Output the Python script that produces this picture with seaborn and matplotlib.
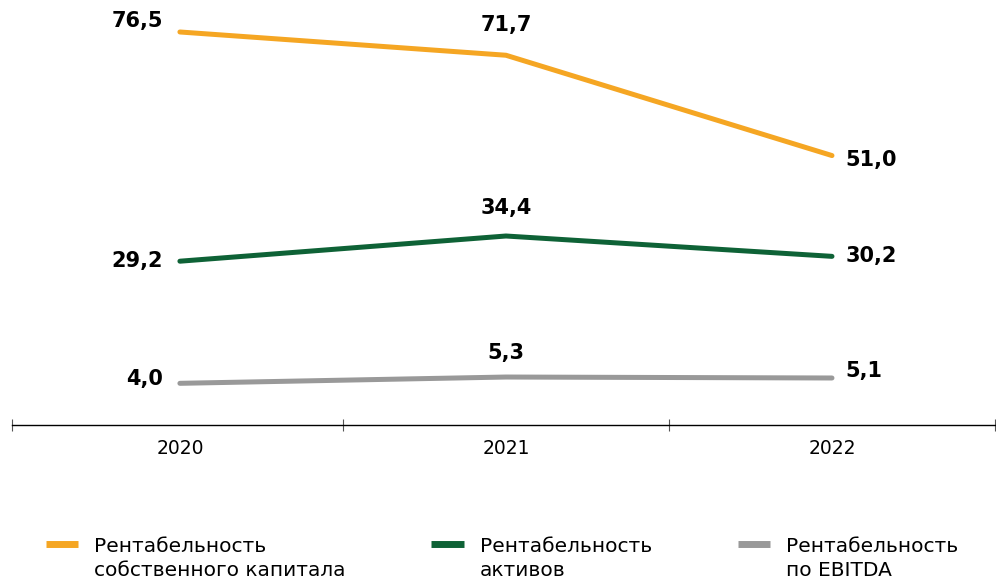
import numpy as np
import pandas as pd
import matplotlib.pyplot as plt
import seaborn as sns
from matplotlib.legend_handler import HandlerLine2D

# Data
years = ["2020", "2021", "2022"]
roe = [76.5, 71.7, 51.0]
roa = [29.2, 34.4, 30.2]
ebitda = [4.0, 5.3, 5.1]
series_names = ["Рентабельность\nсобственного капитала",
                "Рентабельность\nактивов",
                "Рентабельность\nпо EBITDA"]
colors = ["#F5A623", "#0E6236", "#999999"]

df = pd.DataFrame({
    "x": list(range(len(years))) * 3,
    "value": roe + roa + ebitda,
    "series": [series_names[0]] * 3 + [series_names[1]] * 3 + [series_names[2]] * 3,
})

sns.set_style("white")
plt.rcParams["font.family"] = ["DejaVu Sans"]

fig = plt.figure(figsize=(9.96, 5.81), dpi=100)
ax = fig.add_axes([12 / 996, 1 - 425 / 581, (995 - 12) / 996, 425 / 581])

sns.lineplot(data=df, x="x", y="value", hue="series", palette=colors,
             linewidth=3.6, ax=ax, legend=True)

ax.set_xlim(-0.515, 2.5)
ax.set_ylim(-4.6, 83.1)

# value labels: left of first point, above middle, right of last point
label_pos = {
    0: [(-12, 8), (-12, 0), (-12, 3)],
    1: [(0, 22), (0, 20), (0, 17)],
    2: [(10, -3), (10, 0), (10, 5)],
}
for s_idx, vals in enumerate([roe, roa, ebitda]):
    for i, v in enumerate(vals):
        dx, dy = label_pos[i][s_idx]
        ha = "right" if i == 0 else ("center" if i == 1 else "left")
        ax.annotate(f"{v:.1f}".replace(".", ","), (i, v), xytext=(dx, dy),
                    textcoords="offset points", ha=ha, va="center",
                    fontsize=15, fontweight="bold", color="black")

# axes styling
for side in ["left", "right", "top"]:
    ax.spines[side].set_visible(False)
ax.spines["bottom"].set_color("black")
ax.spines["bottom"].set_linewidth(1.0)
ax.set_yticks([])
ax.set_xticks(range(len(years)))
ax.set_xticklabels(years, fontsize=13.5, color="black")
ax.tick_params(axis="x", which="major", length=0, pad=10)
ax.set_xticks([-0.515, 0.5, 1.5, 2.5], minor=True)
ax.tick_params(axis="x", which="minor", bottom=True, length=8,
               direction="inout", color="#555555", width=0.8)
ax.set_xlabel("")
ax.set_ylabel("")


# legend handle sits next to the first line of the two-line label
class UpperLineHandler(HandlerLine2D):
    def create_artists(self, legend, orig_handle, xdescent, ydescent,
                       width, height, fontsize, trans):
        artists = super().create_artists(legend, orig_handle, xdescent,
                                         ydescent, width, height, fontsize, trans)
        for a in artists:
            a.set_ydata(np.asarray(a.get_ydata()) + fontsize * 0.75)
        return artists


handles, labels = ax.get_legend_handles_labels()
ax.legend_.remove()
leg = fig.legend(handles, labels, loc="upper left", ncol=3, frameon=False,
                 bbox_to_anchor=(36 / 996, 1 - 527 / 581), fontsize=14.5,
                 borderpad=0, handlelength=1.6, handletextpad=0.8,
                 columnspacing=4.25,
                 handler_map={h: UpperLineHandler() for h in handles})
for t in leg.get_texts():
    t.set_color("black")
    t.set_linespacing(1.35)
for h in leg.get_lines():
    h.set_linewidth(5)
    h.set_solid_capstyle("butt")

fig.savefig("out.png", dpi=100)
